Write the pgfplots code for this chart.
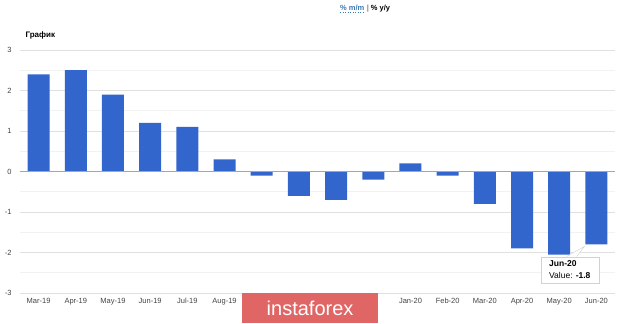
\documentclass[border=0pt]{standalone}
\usepackage{pgfplots}
\pgfplotsset{compat=1.18}
\usepackage{fontspec}
\setmainfont{Liberation Sans}
\definecolor{barblue}{HTML}{3366CC}
\definecolor{gridmaj}{HTML}{E0E0E0}
\definecolor{gridmin}{HTML}{F2F2F2}
\definecolor{ticktxt}{HTML}{444444}
\definecolor{wm}{HTML}{E06666}
\definecolor{linkblue}{HTML}{3C78B4}
\begin{document}
\begin{tikzpicture}
\begin{axis}[
  name=ax,
  scale only axis,
  width=595pt, height=243pt,
  xmin=-0.5, xmax=15.5,
  ymin=-3, ymax=3,
  ytick={-3,-2,-1,0,1,2,3},
  minor ytick={-2.5,-1.5,-0.5,0.5,1.5,2.5},
  xtick={0,...,15},
  xticklabels={Mar-19,Apr-19,May-19,Jun-19,Jul-19,Aug-19,,,,,Jan-20,Feb-20,Mar-20,Apr-20,May-20,Jun-20},
  ymajorgrids, yminorgrids,
  major grid style={gridmaj, line width=0.8pt},
  minor grid style={gridmin, line width=0.8pt},
  axis line style={draw=none},
  major tick length=0pt, minor tick length=0pt,
  tick style={draw=none},
  ticklabel style={font=\fontsize{7.5}{9}\selectfont, text=ticktxt},
  /pgf/number format/assume math mode=true,
  yticklabel style={xshift=-5pt},
  xticklabel style={yshift=-2pt},
  clip=false,
]
\addplot[ybar, bar width=22pt, fill=barblue, draw=none] coordinates {
(0,2.4) (1,2.5) (2,1.9) (3,1.2) (4,1.1) (5,0.3) (6,-0.1) (7,-0.6)
(8,-0.7) (9,-0.2) (10,0.2) (11,-0.1) (12,-0.8) (13,-1.9) (14,-2.05) (15,-1.8)
};
\draw[gray!70, line width=0.8pt] (axis cs:-0.5,0) -- (axis cs:15.5,0);
\node[fill=wm, text=white, minimum width=136pt, minimum height=30pt, inner sep=0pt, font=\fontsize{20}{22}\selectfont, anchor=north] at (axis cs:7.3,-3) {instaforex};
\node[draw=gray!35, fill=white, align=left, inner sep=4pt, font=\fontsize{8.5}{12}\selectfont, anchor=north west, minimum width=58pt] (tip) at (axis cs:13.5,-2.1) {\textbf{Jun-20}\\Value: \textbf{-1.8}};
\draw[gray!35, fill=white] ([xshift=26pt]tip.north west) -- (axis cs:14.68,-1.85) -- ([xshift=36pt]tip.north west);
\end{axis}
\node[anchor=west, font=\bfseries\fontsize{8}{9}\selectfont] at ([xshift=2pt,yshift=15pt]ax.north west) {График};
\node[font=\bfseries\fontsize{7.5}{8}\selectfont, anchor=base west, inner sep=0pt] (mm) at ([xshift=320pt,yshift=39pt]ax.north west) {\textcolor{linkblue}{\% m/m}};
\draw[linkblue, dotted, line width=0.5pt] ([yshift=-1.5pt]mm.base west) -- ([yshift=-1.5pt]mm.base east);
\node[font=\bfseries\fontsize{7.5}{8}\selectfont, anchor=base west, inner sep=0pt] at ([xshift=2pt]mm.base east) {\textcolor{gray}{|} \% y/y};
\useasboundingbox ([xshift=-20pt,yshift=-28pt]ax.south west) rectangle ([xshift=5pt,yshift=50pt]ax.north east);
\end{tikzpicture}
\end{document}
